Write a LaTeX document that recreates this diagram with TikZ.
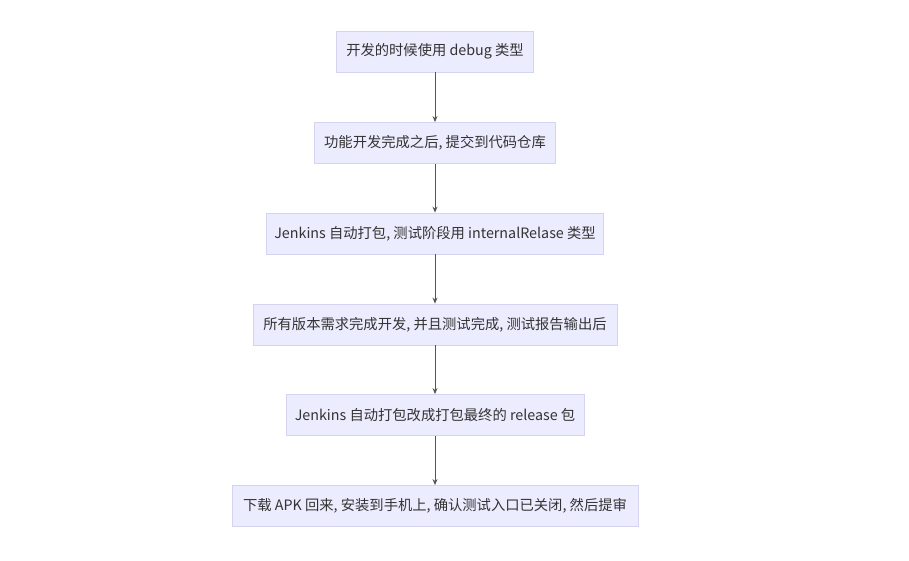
\documentclass[tikz,border=0pt]{standalone}
\usepackage{fontspec}
\setmainfont{Noto Sans CJK SC}
\usetikzlibrary{arrows.meta}
\definecolor{boxfill}{HTML}{ECECFF}
\definecolor{boxline}{HTML}{D6D3F0}
\definecolor{txt}{HTML}{333333}
\definecolor{arr}{HTML}{555555}
\begin{document}
\begin{tikzpicture}[x=1pt,y=1pt,
  stepbox/.style={draw=boxline, fill=boxfill, line width=0.8pt, minimum height=41pt, inner sep=0pt, text=txt, font=\fontsize{14.3pt}{17pt}\selectfont},
  flow/.style={draw=arr, line width=1pt, -{Stealth[length=6pt,width=5pt]}}]
\useasboundingbox (0,0) rectangle (909,561);
\node[stepbox, minimum width=197pt] (n1) at (435,{561-51.5}) {开发的时候使用 debug 类型};
\node[stepbox, minimum width=241pt] (n2) at (435,{561-143}) {功能开发完成之后, 提交到代码仓库};
\node[stepbox, minimum width=337pt] (n3) at (435,{561-233.5}) {Jenkins 自动打包, 测试阶段用 internalRelase 类型};
\node[stepbox, minimum width=364pt] (n4) at (435,{561-324.5}) {所有版本需求完成开发, 并且测试完成, 测试报告输出后};
\node[stepbox, minimum width=298pt] (n5) at (435,{561-415}) {Jenkins 自动打包改成打包最终的 release 包};
\node[stepbox, minimum width=406pt] (n6) at (435,{561-506}) {下载 APK 回来, 安装到手机上, 确认测试入口已关闭, 然后提审};
\draw[flow] (n1) -- (n2);
\draw[flow] (n2) -- (n3);
\draw[flow] (n3) -- (n4);
\draw[flow] (n4) -- (n5);
\draw[flow] (n5) -- (n6);
\end{tikzpicture}
\end{document}
